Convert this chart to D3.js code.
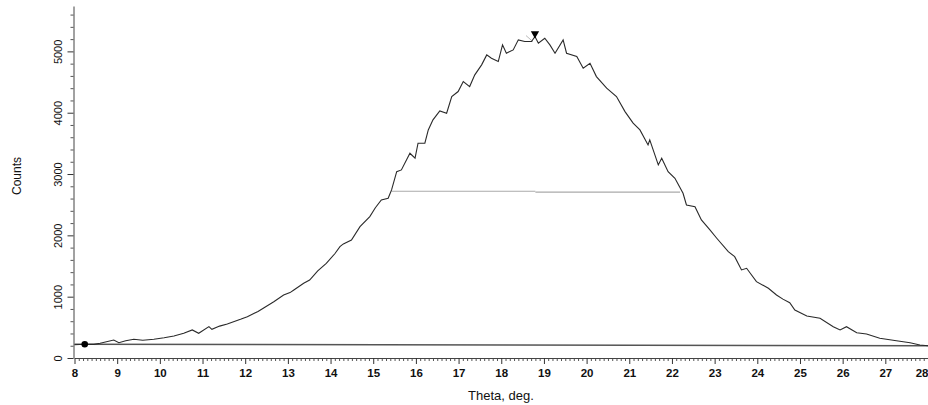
<!DOCTYPE html>
<html>
<head>
<meta charset="utf-8">
<script src="https://cdn.jsdelivr.net/npm/d3@7"></script>
<style>
  body { margin: 0; background: #fff; }
  svg { display: block; font-family: "Liberation Sans", Arial, sans-serif; }
</style>
</head>
<body>
<svg id="chart" width="928" height="405"></svg>
<script>
// ---- data ----
const theta = [8.00, 8.24, 8.45, 8.6, 8.92, 9.04, 9.2, 9.39, 9.6, 9.86, 10.1, 10.33, 10.56, 10.76, 10.91,
  11.15, 11.22, 11.4, 11.58, 11.89, 12.05, 12.3, 12.48, 12.67, 12.9, 13.05, 13.14, 13.37, 13.51, 13.7,
  13.9, 14.1, 14.22, 14.3, 14.49, 14.69, 14.92, 15.05, 15.19, 15.35, 15.43, 15.55, 15.66, 15.86, 15.98,
  16.05, 16.21, 16.29, 16.4, 16.56, 16.72, 16.84, 16.99, 17.11, 17.26, 17.38, 17.54, 17.66, 17.77, 17.93,
  18.03, 18.12, 18.28, 18.4, 18.55, 18.71, 18.79, 18.87, 19.02, 19.14, 19.26, 19.45, 19.53, 19.77, 19.92,
  20.08, 20.23, 20.47, 20.7, 20.9, 21.09, 21.25, 21.44, 21.48, 21.68, 21.76, 21.91, 22.07, 22.26, 22.34,
  22.54, 22.69, 22.89, 23.05, 23.32, 23.47, 23.63, 23.75, 23.98, 24.26, 24.45, 24.6, 24.76, 24.88, 25.16,
  25.47, 25.78, 25.94, 26.09, 26.33, 26.56, 26.87, 27.26, 27.58, 27.81, 28.0];
const counts = [215, 223, 223, 240, 294, 250, 280, 305, 290, 305, 330, 359, 403, 457, 403,
  511, 468, 520, 555, 631, 674, 760, 837, 918, 1028, 1066, 1109, 1218, 1272, 1420,
  1544, 1700, 1816, 1860, 1925, 2142, 2305, 2450, 2577, 2605, 2741, 3039, 3067, 3339, 3258,
  3502, 3502, 3719, 3883, 4029, 3992, 4263, 4345, 4508, 4426, 4617, 4780, 4943, 4889, 4834,
  5106, 4970, 5024, 5188, 5160, 5160, 5242, 5134, 5215, 5106, 4970, 5188, 4970, 4916, 4726,
  4807, 4589, 4400, 4263, 4018, 3829, 3720, 3475, 3556, 3148, 3258, 3039, 2931, 2687, 2496,
  2468, 2251, 2088, 1953, 1734, 1653, 1436, 1463, 1245, 1137, 1028, 960, 902, 783, 685,
  647, 511, 457, 511, 413, 391, 321, 282, 250, 212, 200];
// background line (start/end), half-max segments, markers
const baseTheta = [8.0, 28.0];
const baseCounts = [223, 201];
const halfTheta = [15.43, 18.8, 18.8, 22.19];
const halfCounts = [2719, 2719, 2705, 2705];
const peakTheta = 18.79, peakCounts = 5290;
const startTheta = 8.24, startCounts = 223;
const fitTheta = [18.58, 18.74], fitCounts = [5258, 5160];
const xTicks = [8, 9, 10, 11, 12, 13, 14, 15, 16, 17, 18, 19, 20, 21, 22, 23, 24, 25, 26, 27, 28];
const yTicks = [0, 1000, 2000, 3000, 4000, 5000];

// ---- layout ----
const svg = d3.select("#chart");
const x = d3.scaleLinear().domain([8, 28]).range([74.5, 928]);
const y = d3.scaleLinear().domain([0, 5740]).range([358, 6]);

// minor ticks
const xMinor = d3.range(8, 28.05, 0.1).map(v => +v.toFixed(1)).filter(v => !xTicks.includes(v));
const yMinor = d3.range(0, 5741, 200).filter(v => !yTicks.includes(v));

const gx = svg.append("g").attr("transform", "translate(0,358)");
gx.call(d3.axisBottom(x).tickValues(xMinor).tickSize(3).tickFormat(""))
  .call(g => g.selectAll(".tick line").attr("stroke", "#555"))
  .call(g => g.select(".domain").remove());
gx.append("g").call(d3.axisBottom(x).tickValues(xTicks).tickSize(6).tickSizeOuter(0).tickFormat(d3.format("d")))
  .call(g => g.select(".domain").attr("stroke", "#444"))
  .call(g => g.selectAll(".tick line").attr("stroke", "#333"))
  .call(g => g.selectAll("text").attr("font-size", 11.5).attr("font-weight", "bold").attr("fill", "#111").attr("dy", "0.9em"))
  .call(g => g.selectAll(".tick").filter(d => d === 28).select("text").attr("text-anchor", "end").attr("x", 0))
  .attr("font-family", null);

const gy = svg.append("g").attr("transform", "translate(73.5,0)");
gy.call(d3.axisLeft(y).tickValues(yMinor).tickSize(3).tickFormat(""))
  .call(g => g.selectAll(".tick line").attr("stroke", "#555"))
  .call(g => g.select(".domain").remove());
gy.append("g").call(d3.axisLeft(y).tickValues(yTicks).tickSize(6).tickSizeOuter(0).tickFormat(d3.format("d")))
  .call(g => g.select(".domain").attr("stroke", "#444"))
  .call(g => g.selectAll(".tick line").attr("stroke", "#333"))
  .call(g => g.selectAll("text")
      .attr("font-size", 11).attr("fill", "#111")
      .attr("text-anchor", "middle").attr("x", 0).attr("dy", null)
      .attr("transform", "translate(-14,0) rotate(-90)").attr("dominant-baseline", "middle"))
  .attr("font-family", null);

// axis titles
svg.append("text").attr("x", 501).attr("y", 400).attr("text-anchor", "middle")
  .attr("font-size", 13).attr("fill", "#111").text("Theta, deg.");
svg.append("text").attr("transform", "translate(21,176) rotate(-90)").attr("text-anchor", "middle")
  .attr("font-size", 12).attr("fill", "#111").text("Counts");

const line = d3.line().x(d => x(d[0])).y(d => y(d[1]));

// background line
svg.append("path")
  .datum(baseTheta.map((t, i) => [t, baseCounts[i]]))
  .attr("d", line)
  .attr("stroke", "#555").attr("stroke-width", 1.5).attr("fill", "none");

// half-max line
for (let i = 0; i < halfTheta.length; i += 2) {
  svg.append("path")
    .datum([[halfTheta[i], halfCounts[i]], [halfTheta[i + 1], halfCounts[i + 1]]])
    .attr("d", line)
    .attr("stroke", "#aaa").attr("stroke-width", 1.2).attr("fill", "none");
}

// small fit segment near the peak
svg.append("path")
  .datum(fitTheta.map((t, i) => [t, fitCounts[i]]))
  .attr("d", line)
  .attr("stroke", "#bbb").attr("stroke-width", 1).attr("fill", "none");

// data curve
svg.append("path")
  .datum(theta.map((t, i) => [t, counts[i]]))
  .attr("d", line)
  .attr("stroke", "#2a2a2a").attr("stroke-width", 1.1).attr("fill", "none");

// markers
svg.append("circle").attr("cx", x(startTheta)).attr("cy", y(startCounts)).attr("r", 3.3).attr("fill", "#000");
svg.append("path")
  .attr("d", d3.symbol().type(d3.symbolTriangle).size(30))
  .attr("transform", `translate(${x(peakTheta)},${y(peakCounts)}) rotate(180)`)
  .attr("fill", "#000");
</script>
</body>
</html>
